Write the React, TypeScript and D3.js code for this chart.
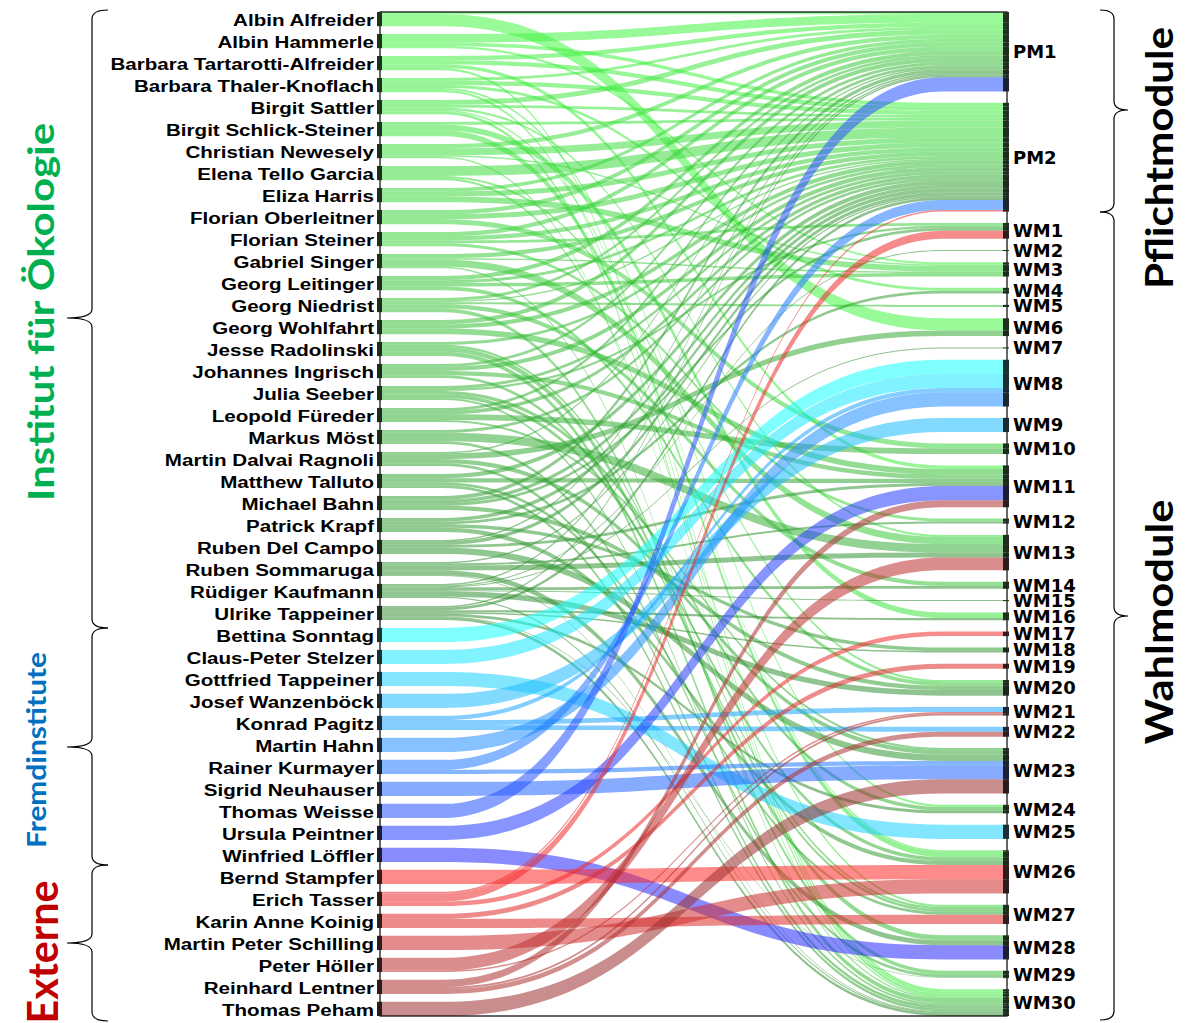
import * as d3 from 'd3';

// --- people (left side), grouped by institute, top to bottom ---
const oekologie = [
  'Albin Alfreider', 'Albin Hammerle', 'Barbara Tartarotti-Alfreider', 'Barbara Thaler-Knoflach',
  'Birgit Sattler', 'Birgit Schlick-Steiner', 'Christian Newesely', 'Elena Tello Garcia',
  'Eliza Harris', 'Florian Oberleitner', 'Florian Steiner', 'Gabriel Singer',
  'Georg Leitinger', 'Georg Niedrist', 'Georg Wohlfahrt', 'Jesse Radolinski',
  'Johannes Ingrisch', 'Julia Seeber', 'Leopold Füreder', 'Markus Möst',
  'Martin Dalvai Ragnoli', 'Matthew Talluto', 'Michael Bahn', 'Patrick Krapf',
  'Ruben Del Campo', 'Ruben Sommaruga', 'Rüdiger Kaufmann', 'Ulrike Tappeiner',
];
const fremdinstitute = [
  'Bettina Sonntag', 'Claus-Peter Stelzer', 'Gottfried Tappeiner', 'Josef Wanzenböck',
  'Konrad Pagitz', 'Martin Hahn', 'Rainer Kurmayer', 'Sigrid Neuhauser',
  'Thomas Weisse', 'Ursula Peintner', 'Winfried Löffler',
];
const externe = [
  'Bernd Stampfer', 'Erich Tasser', 'Karin Anne Koinig', 'Martin Peter Schilling',
  'Peter Höller', 'Reinhard Lentner', 'Thomas Peham',
];

// --- modules (right side) ---
const modules = [
  'PM1', 'PM2', 'WM1', 'WM2', 'WM3', 'WM4', 'WM5', 'WM6', 'WM7', 'WM8', 'WM9', 'WM10',
  'WM11', 'WM12', 'WM13', 'WM14', 'WM15', 'WM16', 'WM17', 'WM18', 'WM19', 'WM20',
  'WM21', 'WM22', 'WM23', 'WM24', 'WM25', 'WM26', 'WM27', 'WM28', 'WM29', 'WM30',
];

// share of each person's teaching per module (person, module, share)
type Flow = [string, string, number];
const oekologieFlows: Flow[] = [
  ['Albin Alfreider', 'PM1', 0.15], ['Albin Alfreider', 'WM6', 0.85],
  ['Albin Hammerle', 'PM1', 0.6], ['Albin Hammerle', 'PM2', 0.25], ['Albin Hammerle', 'WM3', 0.15],
  ['Barbara Tartarotti-Alfreider', 'PM1', 0.3], ['Barbara Tartarotti-Alfreider', 'PM2', 0.3],
  ['Barbara Tartarotti-Alfreider', 'WM11', 0.25], ['Barbara Tartarotti-Alfreider', 'WM30', 0.15],
  ['Barbara Thaler-Knoflach', 'PM1', 0.2], ['Barbara Thaler-Knoflach', 'PM2', 0.3], ['Barbara Thaler-Knoflach', 'WM4', 0.2],
  ['Barbara Thaler-Knoflach', 'WM24', 0.15], ['Barbara Thaler-Knoflach', 'WM30', 0.15],
  ['Birgit Sattler', 'PM1', 0.35], ['Birgit Sattler', 'PM2', 0.2], ['Birgit Sattler', 'WM13', 0.15],
  ['Birgit Sattler', 'WM26', 0.1], ['Birgit Sattler', 'WM30', 0.2],
  ['Birgit Schlick-Steiner', 'PM2', 0.2], ['Birgit Schlick-Steiner', 'WM16', 0.4], ['Birgit Schlick-Steiner', 'WM26', 0.4],
  ['Christian Newesely', 'PM1', 0.3], ['Christian Newesely', 'PM2', 0.5], ['Christian Newesely', 'WM3', 0.1],
  ['Christian Newesely', 'WM30', 0.1],
  ['Elena Tello Garcia', 'PM2', 0.7], ['Elena Tello Garcia', 'WM20', 0.15], ['Elena Tello Garcia', 'WM27', 0.15],
  ['Eliza Harris', 'PM1', 0.25], ['Eliza Harris', 'PM2', 0.35], ['Eliza Harris', 'WM3', 0.4],
  ['Florian Oberleitner', 'PM1', 0.3], ['Florian Oberleitner', 'PM2', 0.35], ['Florian Oberleitner', 'WM10', 0.35],
  ['Florian Steiner', 'PM1', 0.3], ['Florian Steiner', 'PM2', 0.3], ['Florian Steiner', 'WM1', 0.2], ['Florian Steiner', 'WM12', 0.2],
  ['Gabriel Singer', 'PM2', 0.3], ['Gabriel Singer', 'WM3', 0.1], ['Gabriel Singer', 'WM13', 0.5], ['Gabriel Singer', 'WM30', 0.1],
  ['Georg Leitinger', 'PM1', 0.3], ['Georg Leitinger', 'PM2', 0.2], ['Georg Leitinger', 'WM3', 0.25], ['Georg Leitinger', 'WM20', 0.25],
  ['Georg Niedrist', 'PM1', 0.2], ['Georg Niedrist', 'PM2', 0.1], ['Georg Niedrist', 'WM5', 0.15],
  ['Georg Niedrist', 'WM14', 0.3], ['Georg Niedrist', 'WM29', 0.25],
  ['Georg Wohlfahrt', 'PM1', 0.3], ['Georg Wohlfahrt', 'PM2', 0.3], ['Georg Wohlfahrt', 'WM11', 0.4],
  ['Jesse Radolinski', 'PM2', 0.2], ['Jesse Radolinski', 'WM27', 0.15], ['Jesse Radolinski', 'WM28', 0.35], ['Jesse Radolinski', 'WM30', 0.3],
  ['Johannes Ingrisch', 'PM1', 0.2], ['Johannes Ingrisch', 'PM2', 0.3], ['Johannes Ingrisch', 'WM11', 0.3], ['Johannes Ingrisch', 'WM27', 0.2],
  ['Julia Seeber', 'PM2', 0.2], ['Julia Seeber', 'WM1', 0.15], ['Julia Seeber', 'WM24', 0.25],
  ['Julia Seeber', 'WM26', 0.25], ['Julia Seeber', 'WM30', 0.15],
  ['Leopold Füreder', 'PM1', 0.2], ['Leopold Füreder', 'PM2', 0.25], ['Leopold Füreder', 'WM10', 0.4], ['Leopold Füreder', 'WM23', 0.15],
  ['Markus Möst', 'PM2', 0.2], ['Markus Möst', 'WM13', 0.6], ['Markus Möst', 'WM29', 0.2],
  ['Martin Dalvai Ragnoli', 'PM1', 0.1], ['Martin Dalvai Ragnoli', 'WM6', 0.4], ['Martin Dalvai Ragnoli', 'WM23', 0.3],
  ['Martin Dalvai Ragnoli', 'WM30', 0.2],
  ['Matthew Talluto', 'PM2', 0.3], ['Matthew Talluto', 'WM11', 0.3], ['Matthew Talluto', 'WM27', 0.2], ['Matthew Talluto', 'WM30', 0.2],
  ['Michael Bahn', 'PM1', 0.25], ['Michael Bahn', 'PM2', 0.25], ['Michael Bahn', 'WM1', 0.2], ['Michael Bahn', 'WM20', 0.3],
  ['Patrick Krapf', 'PM2', 0.25], ['Patrick Krapf', 'WM4', 0.2], ['Patrick Krapf', 'WM18', 0.25], ['Patrick Krapf', 'WM26', 0.3],
  ['Ruben Del Campo', 'PM1', 0.1], ['Ruben Del Campo', 'PM2', 0.25], ['Ruben Del Campo', 'WM11', 0.2], ['Ruben Del Campo', 'WM23', 0.45],
  ['Ruben Sommaruga', 'PM2', 0.1], ['Ruben Sommaruga', 'WM12', 0.15], ['Ruben Sommaruga', 'WM13', 0.35],
  ['Ruben Sommaruga', 'WM28', 0.35], ['Ruben Sommaruga', 'WM30', 0.05],
  ['Rüdiger Kaufmann', 'PM1', 0.1], ['Rüdiger Kaufmann', 'WM2', 0.07], ['Rüdiger Kaufmann', 'WM7', 0.07],
  ['Rüdiger Kaufmann', 'WM14', 0.2], ['Rüdiger Kaufmann', 'WM15', 0.07], ['Rüdiger Kaufmann', 'WM20', 0.4],
  ['Rüdiger Kaufmann', 'WM30', 0.09],
  ['Ulrike Tappeiner', 'PM1', 0.1], ['Ulrike Tappeiner', 'PM2', 0.2], ['Ulrike Tappeiner', 'WM16', 0.15],
  ['Ulrike Tappeiner', 'WM18', 0.1], ['Ulrike Tappeiner', 'WM24', 0.2], ['Ulrike Tappeiner', 'WM29', 0.05],
  ['Ulrike Tappeiner', 'WM30', 0.2],
];
const fremdFlows: Flow[] = [
  ['Bettina Sonntag', 'WM8', 1],
  ['Claus-Peter Stelzer', 'WM8', 1],
  ['Gottfried Tappeiner', 'WM25', 1],
  ['Josef Wanzenböck', 'WM9', 1],
  ['Konrad Pagitz', 'WM8', 0.3], ['Konrad Pagitz', 'WM21', 0.35], ['Konrad Pagitz', 'WM22', 0.35],
  ['Martin Hahn', 'WM8', 1],
  ['Rainer Kurmayer', 'PM2', 0.7], ['Rainer Kurmayer', 'WM23', 0.3],
  ['Sigrid Neuhauser', 'WM23', 1],
  ['Thomas Weisse', 'PM1', 1],
  ['Ursula Peintner', 'WM11', 1],
  ['Winfried Löffler', 'WM28', 1],
];
const externFlows: Flow[] = [
  ['Bernd Stampfer', 'WM26', 1],
  ['Erich Tasser', 'PM2', 0.12], ['Erich Tasser', 'WM1', 0.56], ['Erich Tasser', 'WM17', 0.32],
  ['Karin Anne Koinig', 'WM19', 0.35], ['Karin Anne Koinig', 'WM27', 0.65],
  ['Martin Peter Schilling', 'WM26', 1],
  ['Peter Höller', 'WM13', 0.9], ['Peter Höller', 'WM21', 0.1],
  ['Reinhard Lentner', 'WM11', 0.5], ['Reinhard Lentner', 'WM21', 0.15], ['Reinhard Lentner', 'WM22', 0.35],
  ['Thomas Peham', 'WM23', 1],
];

const WIDTH = 1191;
const HEIGHT = 1023;
const plot = { left: 380, right: 1007, top: 12, bottom: 1016 };
const splitX = 443; // where bands leave the left stack
const joinX = 943;  // where bands reach the right stack
const nodeShare = 0.65;
const LINK_ALPHA = 0.55;

// colour drawn at LINK_ALPHA so that it looks like `seen` on white
const baseFor = (seen: string) => {
  const c = d3.rgb(seen);
  const f = (v: number) => Math.max(0, Math.min(255, (v - 255 * (1 - LINK_ALPHA)) / LINK_ALPHA));
  return d3.rgb(f(c.r), f(c.g), f(c.b)).formatHex();
};
const dark = (c: string) => d3.interpolateRgb(c, '#000')(0.8);

// curly brace along y, tip pointing to the side of `tipX`
const brace = (x: number, tipX: number, y0: number, y1: number, ym: number, lineX: number) => {
  const p = d3.path();
  const r = 9;
  p.moveTo(x, y0);
  p.quadraticCurveTo(lineX, y0, lineX, y0 + r);
  p.lineTo(lineX, ym - r);
  p.quadraticCurveTo(lineX, ym, tipX, ym);
  p.quadraticCurveTo(lineX, ym, lineX, ym + r);
  p.lineTo(lineX, y1 - r);
  p.quadraticCurveTo(lineX, y1, x, y1);
  return p.toString();
};

export default function App() {
  const people = [...oekologie, ...fremdinstitute, ...externe];
  const flows = [...oekologieFlows, ...fremdFlows, ...externFlows];

  const green = d3.scaleLinear<string>().domain([0, oekologie.length - 1]).range(['#98fb98', '#8fc18f']);
  const blue = d3.scaleLinear<string>().domain([0, fremdinstitute.length - 1])
    .range(['hsl(180,100%,75%)', 'hsl(240,100%,77%)']).interpolate(d3.interpolateHsl);
  const red = d3.scaleLinear<string>().domain([0, externe.length - 1]).range(['#ff8a8a', '#c98d8d']);
  const colorOf = new Map<string, string>();
  oekologie.forEach((n, i) => colorOf.set(n, d3.rgb(green(i)).formatHex()));
  fremdinstitute.forEach((n, i) => colorOf.set(n, d3.rgb(blue(i)).formatHex()));
  externe.forEach((n, i) => colorOf.set(n, d3.rgb(red(i)).formatHex()));

  const personTotal = d3.rollup(flows, v => d3.sum(v, d => d[2]), d => d[0]);
  const moduleTotal = d3.rollup(flows, v => d3.sum(v, d => d[2]), d => d[1]);
  const total = d3.sum(flows, d => d[2]);
  const plotH = plot.bottom - plot.top;
  const size = d3.scaleLinear().domain([0, total]).range([0, nodeShare * plotH]);
  const gapL = (plotH - size(total)) / (people.length - 1);
  const gapR = (plotH - size(total)) / (modules.length - 1);

  const leftY = new Map<string, number>();
  let y = plot.top;
  people.forEach(p => { leftY.set(p, y); y += size(personTotal.get(p) ?? 0) + gapL; });
  const rightY = new Map<string, number>();
  y = plot.top;
  modules.forEach(m => { rightY.set(m, y); y += size(moduleTotal.get(m) ?? 0) + gapR; });

  const pIdx = new Map(people.map((p, i) => [p, i]));
  const mIdx = new Map(modules.map((m, i) => [m, i]));
  const bands = flows.map(f => ({ person: f[0], module: f[1], h: size(f[2]), sy: 0, ty: 0 }));

  // stack at the people by module order, at the modules by people order
  const srcCursor = new Map(leftY);
  [...bands].sort((a, b) => d3.ascending(pIdx.get(a.person), pIdx.get(b.person)) || d3.ascending(mIdx.get(a.module), mIdx.get(b.module)))
    .forEach(b => { b.sy = srcCursor.get(b.person)!; srcCursor.set(b.person, b.sy + b.h); });
  const tgtCursor = new Map(rightY);
  [...bands].sort((a, b) => d3.ascending(mIdx.get(a.module), mIdx.get(b.module)) || d3.ascending(pIdx.get(a.person), pIdx.get(b.person)))
    .forEach(b => { b.ty = tgtCursor.get(b.module)!; tgtCursor.set(b.module, b.ty + b.h); });

  const xm = (splitX + joinX) / 2;
  const bandPath = (b: typeof bands[number]) => {
    const p = d3.path();
    p.moveTo(plot.left, b.sy);
    p.lineTo(splitX, b.sy);
    p.bezierCurveTo(xm, b.sy, xm, b.ty, joinX, b.ty);
    p.lineTo(plot.right - 3, b.ty);
    p.lineTo(plot.right - 3, b.ty + b.h);
    p.lineTo(joinX, b.ty + b.h);
    p.bezierCurveTo(xm, b.ty + b.h, xm, b.sy + b.h, splitX, b.sy + b.h);
    p.lineTo(plot.left, b.sy + b.h);
    p.closePath();
    return p.toString();
  };

  const nameFont = { fontFamily: '"Liberation Sans", Arial, sans-serif', fontWeight: 700 };
  const moduleFont = { fontFamily: '"DejaVu Sans", sans-serif', fontWeight: 700 };
  const groupFont = { fontFamily: 'Lato, "Open Sans", sans-serif' };

  return (
    <svg width={WIDTH} height={HEIGHT} style={{ position: 'absolute', left: 0, top: 0, background: '#fff' }}>
      <g>
        {bands.map((b, i) => (
          <path key={i} d={bandPath(b)} fill={baseFor(colorOf.get(b.person)!)} fillOpacity={LINK_ALPHA} />
        ))}
      </g>

      <rect x={plot.left} y={plot.top} width={plot.right - plot.left} height={plotH} fill="none" stroke="#000" strokeWidth={1.2} />

      {people.map(p => (
        <g key={p}>
          <rect x={377} y={leftY.get(p)} width={5} height={size(personTotal.get(p) ?? 0)} fill={dark(colorOf.get(p)!)} />
          <text transform={`translate(374,${leftY.get(p)! + size(personTotal.get(p) ?? 0) / 2 + 1}) scale(1.255,1)`}
            textAnchor="end" dominantBaseline="central" fontSize={16.4} {...nameFont} fill="#000">{p}</text>
        </g>
      ))}

      {bands.map((b, i) => (
        <rect key={i} x={plot.right - 4} y={b.ty} width={6} height={Math.max(b.h, 1)} fill={dark(colorOf.get(b.person)!)} />
      ))}
      {modules.map(m => (
        <text key={m} x={1013} y={rightY.get(m)! + size(moduleTotal.get(m) ?? 0) / 2} dominantBaseline="central"
          fontSize={18} {...moduleFont} fill="#000">{m}</text>
      ))}

      <g fill="none" stroke="#000" strokeWidth={1.2}>
        <path d={brace(108, 67, 10, 628, 318, 92)} />
        <path d={brace(108, 67, 628, 865, 747, 92)} />
        <path d={brace(108, 67, 865, 1021, 943, 92)} />
        <path d={brace(1100, 1128, 10, 212, 110, 1114)} />
        <path d={brace(1100, 1128, 212, 1020, 616, 1114)} />
      </g>

      <text transform="translate(40,312) rotate(-90)" textAnchor="middle" dominantBaseline="central" fontSize={36}
        textLength={378} lengthAdjust="spacingAndGlyphs" fontWeight={700} fill="#00b050" {...groupFont}>Institut für Ökologie</text>
      <text transform="translate(36,750) rotate(-90)" textAnchor="middle" dominantBaseline="central" fontSize={26}
        textLength={196} lengthAdjust="spacingAndGlyphs" fontWeight={700} fill="#0070c0" {...groupFont}>Fremdinstitute</text>
      <text transform="translate(42,952) rotate(-90)" textAnchor="middle" dominantBaseline="central" fontSize={42}
        textLength={143} lengthAdjust="spacingAndGlyphs" fontWeight={700} fill="#c00000" {...groupFont}>Externe</text>
      <text transform="translate(1158,158) rotate(-90)" textAnchor="middle" dominantBaseline="central" fontSize={38}
        textLength={262} lengthAdjust="spacingAndGlyphs" fontWeight={700} fill="#000" {...groupFont}>Pflichtmodule</text>
      <text transform="translate(1158,622) rotate(-90)" textAnchor="middle" dominantBaseline="central" fontSize={38}
        textLength={245} lengthAdjust="spacingAndGlyphs" fontWeight={700} fill="#000" {...groupFont}>Wahlmodule</text>
    </svg>
  );
}
